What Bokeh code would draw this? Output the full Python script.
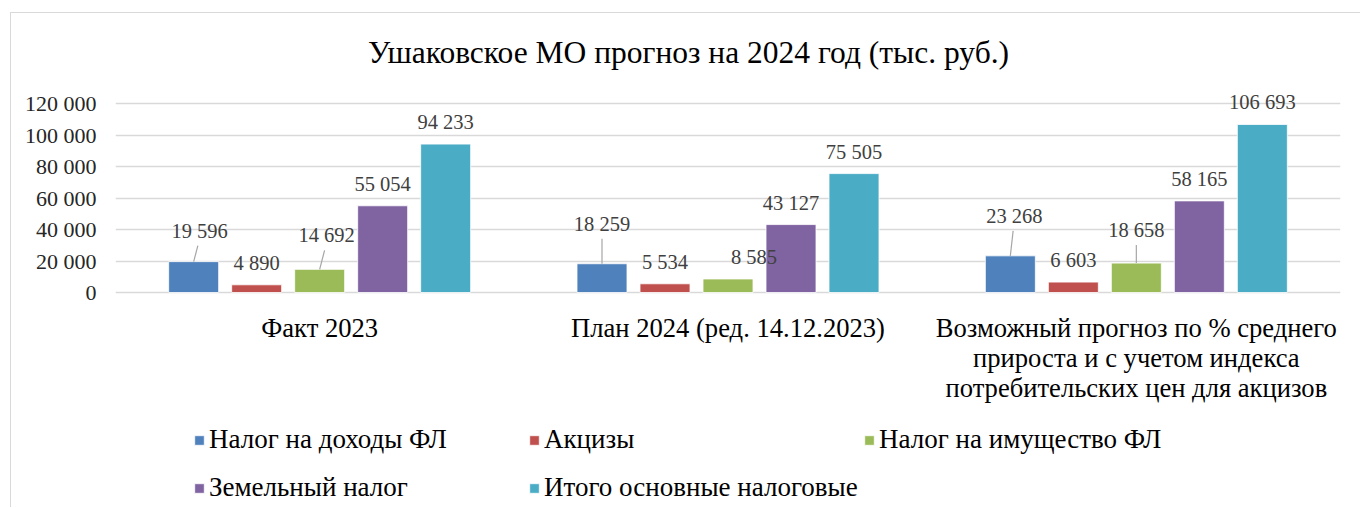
from bokeh.plotting import figure
from bokeh.models import (ColumnDataSource, LabelSet, Label, Legend, LegendItem,
                          Range1d, FixedTicker)
from bokeh.core.properties import value
from bokeh.embed import file_html
from bokeh.resources import INLINE

# ---------------- data ----------------
title_text = "Ушаковское МО прогноз на 2024 год (тыс. руб.)"
categories = [
    "Факт 2023",
    "План 2024 (ред. 14.12.2023)",
    "Возможный прогноз по % среднего\nприроста и с учетом индекса\nпотребительских цен для акцизов",
]
series_names = [
    "Налог на доходы ФЛ",
    "Акцизы",
    "Налог на имущество ФЛ",
    "Земельный налог",
    "Итого основные налоговые",
]
ndfl = [19596, 18259, 23268]
akcizy = [4890, 5534, 6603]
imushestvo = [14692, 8585, 18658]
zemelny = [55054, 43127, 58165]
itogo = [94233, 75505, 106693]
series_values = [ndfl, akcizy, imushestvo, zemelny, itogo]
y_ticks = [0, 20000, 40000, 60000, 80000, 100000, 120000]
y_tick_labels = ["0", "20 000", "40 000", "60 000", "80 000", "100 000", "120 000"]

# ---------------- styles ----------------
colors = ["#4F81BD", "#C0504D", "#9BBB59", "#8064A2", "#4BACC6"]
# label placement (pixels): horizontal shift, height above bar top, leader line
label_dx = [[6, 0, 4], [0, 0, 0], [7, 26, 0], [0, 0, 0], [0, 0, 0]]
label_dy = [[24, 33, 33], [15, 15, 15], [27, 15, 26], [15, 15, 15], [15, 15, 15]]
leader = [[1, 1, 1], [0, 0, 0], [1, 0, 1], [0, 0, 0], [0, 0, 0]]

W, H = 1350, 495
BL, BR = 104, 21
FW = W - BL - BR
ZERO_PX = 279          # canvas y of the 0 line
TOP_PX = 90            # canvas y of the top grid line
YMAX = 120000
YU = YMAX / (ZERO_PX - TOP_PX)   # data units per pixel (y)
XU = 3.0 / FW                    # data units per pixel (x)
PITCH = 63 / (FW / 3)
BW = 50 / (FW / 3)
FONT = "'Liberation Serif', 'Times New Roman', serif"

p = figure(width=W, height=H, output_backend="svg", toolbar_location=None,
           x_range=Range1d(0, 3),
           y_range=Range1d(-(H - ZERO_PX) * YU, YMAX + TOP_PX * YU),
           min_border_left=BL, min_border_right=BR, min_border_top=0,
           min_border_bottom=0, outline_line_color=None,
           background_fill_color="white", border_fill_color="white")
p.styles = {"margin-left": "10px", "margin-top": "12px",
            "border-top": "1px solid #D9D9D9", "border-left": "1px solid #D9D9D9"}

p.xgrid.visible = False
p.xaxis.visible = False
p.ygrid.grid_line_color = "#D9D9D9"
p.ygrid.grid_line_width = 1.3
p.ygrid.ticker = FixedTicker(ticks=y_ticks)

p.yaxis.ticker = FixedTicker(ticks=y_ticks)
p.yaxis.major_label_overrides = {t: s for t, s in zip(y_ticks, y_tick_labels)}
p.yaxis.axis_line_color = None
p.yaxis.major_tick_line_color = None
p.yaxis.minor_tick_line_color = None
p.yaxis.major_label_standoff = 13
p.yaxis.major_label_text_font = FONT
p.yaxis.major_label_text_font_size = "22px"
p.yaxis.major_label_text_color = "#262626"

cat_x = [i + 0.5 for i in range(len(categories))]

# category labels (one text per line, centred under each group)
cl = dict(x=[], y=[], text=[])
for c, name in zip(cat_x, categories):
    for k, line in enumerate(name.split("\n")):
        cl["x"].append(c)
        cl["y"].append(-(35 + 30 * k) * YU)
        cl["text"].append(line)
p.text(x="x", y="y", text="text", source=ColumnDataSource(cl),
       text_align="center", text_baseline="middle",
       text_font=value(FONT), text_font_size="26.6px", text_color="#000000")

items = []
lab = dict(x=[], y=[], text=[])
seg = dict(x0=[], y0=[], x1=[], y1=[])
for j, (name, vals) in enumerate(zip(series_names, series_values)):
    xs = [c + (j - 2) * PITCH for c in cat_x]
    src = ColumnDataSource(dict(x=xs, top=vals))
    r = p.vbar(x="x", top="top", bottom=0, width=BW, source=src, fill_color=colors[j],
               line_color="white", line_width=0.8)
    items.append(LegendItem(label=name, renderers=[r]))
    for i, v in enumerate(vals):
        dx, dy = label_dx[j][i], label_dy[j][i]
        lab["x"].append(xs[i] + dx * XU)
        lab["y"].append(v + dy * YU)
        lab["text"].append(f"{v:,}".replace(",", " "))
        if leader[j][i]:
            seg["x0"].append(xs[i])
            seg["y0"].append(v)
            seg["x1"].append(xs[i] + dx * XU * 0.7)
            seg["y1"].append(v + (dy - 8) * YU)

p.segment(x0="x0", y0="y0", x1="x1", y1="y1", source=ColumnDataSource(seg),
          line_color="#A6A6A6", line_width=1.2)

p.add_layout(LabelSet(x="x", y="y", text="text", source=ColumnDataSource(lab),
                      text_align="center", text_baseline="alphabetic",
                      text_font=FONT, text_font_size="20.5px",
                      text_color="#404040"))

p.add_layout(Label(x=573 * XU, y=YMAX + (TOP_PX - 39) * YU, text=title_text,
                   text_align="center", text_baseline="middle",
                   text_font=FONT, text_font_size="31.5px", text_color="#000000"))

legend = Legend(items=items, orientation="horizontal", ncols=3,
                location=(78, -3), padding=0, margin=0, spacing=1,
                border_line_color=None, background_fill_alpha=0,
                glyph_width=12, glyph_height=12, label_standoff=4,
                label_width=318, label_height=47,
                label_text_font=FONT, label_text_font_size="27px",
                label_text_color="#000000")
p.add_layout(legend, "center")

open("out.html", "w").write(file_html(p, INLINE))
